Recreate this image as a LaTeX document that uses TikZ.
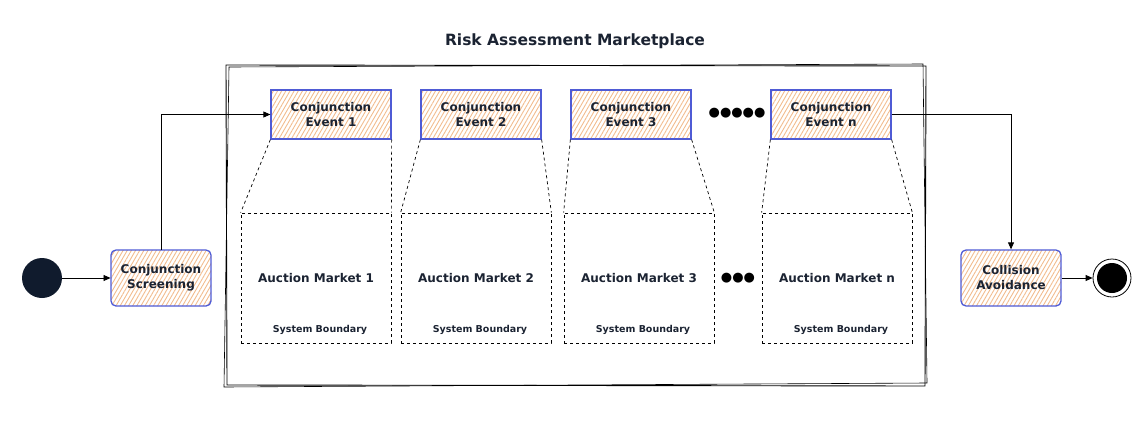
\documentclass[tikz,border=0pt]{standalone}
\usepackage{fontspec}
\setmainfont{DejaVu Sans}
\usetikzlibrary{patterns.meta,arrows.meta,positioning}

\definecolor{hatch}{HTML}{F2BC8E}
\definecolor{rim}{HTML}{4F5BD5}
\definecolor{ink}{HTML}{1B2332}
\definecolor{navy}{HTML}{101B2D}

\tikzset{
  act/.style={draw=rim, line width=1.3pt, text=ink, align=center, inner sep=0pt,
    pattern={Lines[angle=60,distance=3.6pt,line width=0.9pt]}, pattern color=hatch,
    font=\bfseries\fontsize{12}{15}\selectfont},
  event/.style={act, minimum width=120pt, minimum height=49pt},
  task/.style={act, rounded corners=5pt, minimum width=100pt, minimum height=56pt},
  market/.style={draw, dash pattern=on 3pt off 3pt, line width=0.7pt, inner sep=0pt,
    minimum width=150pt, minimum height=130pt, text=ink,
    font=\bfseries\fontsize{12}{15}\selectfont},
  bound/.style={text=ink, font=\bfseries\fontsize{9.5}{11}\selectfont},
  edgeline/.style={dash pattern=on 3pt off 3pt, line width=0.7pt},
  flow/.style={-{Triangle[length=7pt,width=6pt]}, line width=0.8pt},
  dots/.style={font=\fontsize{13}{13}\selectfont, inner sep=0pt},
}

\begin{document}
\begin{tikzpicture}[x=1pt,y=-1pt]
\useasboundingbox (0,0) rectangle (1148,442);

  % Marketplace frame
\draw[line width=0.9pt] (226,65) -- (926,66) -- (925,386) -- (227,385) -- cycle;
\draw[line width=0.6pt] (229,67) -- (923,64) -- (927,383) -- (224,387) -- cycle;
\node[text=ink, font=\bfseries\fontsize{15.5}{18}\selectfont] (title) at (575,41) {Risk Assessment Marketplace};

  % Define nodes
\node[circle, fill=navy, minimum size=40pt, inner sep=0pt] (start) at (42,278) {};
\node[task] (screen) at (161,278) {Conjunction\\Screening};

\node[event] (ev1) at (331,114.5) {Conjunction\\Event 1};
\node[event] (ev2) at (481,114.5) {Conjunction\\Event 2};
\node[event] (ev3) at (631,114.5) {Conjunction\\Event 3};
\node[event] (evn) at (831,114.5) {Conjunction\\Event n};
\node[dots] (more1) at (737,113) {●●●●●};

\node[market] (m1) at (316,278) {Auction Market 1};
\node[market] (m2) at (476,278) {Auction Market 2};
\node[market] (m3) at (639,278) {Auction Market 3};
\node[market] (mn) at (837,278) {Auction Market n};
\node[dots] (more2) at (738,278) {●●●};

\foreach \i in {1,2,3,n}
  \node[bound, above=5pt of m\i.south, xshift=4pt] (b\i) {System Boundary};

\node[task] (avoid) at (1011,278) {Collision\\Avoidance};
\node[circle, draw, line width=0.8pt, fill=white, minimum size=38pt, inner sep=0pt] (stop) at (1112,278) {};
\node[circle, fill=black, minimum size=30pt, inner sep=0pt] (stopin) at (stop) {};

  % Connect the nodes
\draw[flow] (start) -- (screen);
\draw[flow] (screen.north) |- (ev1.west);
\draw[flow] (evn.east) -| (avoid.north);
\draw[flow] (avoid) -- (stop);

\foreach \i in {1,2,3,n}
  \draw[edgeline] (ev\i.south west) -- (m\i.north west)
                  (ev\i.south east) -- (m\i.north east);

\end{tikzpicture}
\end{document}
